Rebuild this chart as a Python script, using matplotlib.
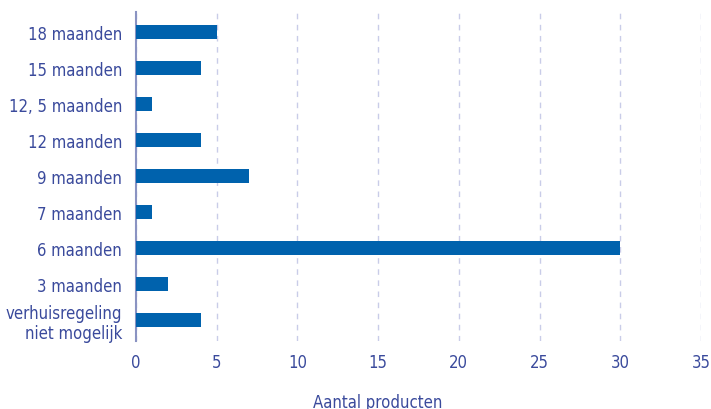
import matplotlib
matplotlib.use("Agg")
import matplotlib.pyplot as plt

categories = ["verhuisregeling\nniet mogelijk", "3 maanden", "6 maanden", "7 maanden",
              "9 maanden", "12 maanden", "12, 5 maanden", "15 maanden", "18 maanden"]
values = [4, 2, 30, 1, 7, 4, 1, 4, 5]
xticks = [0, 5, 10, 15, 20, 25, 30, 35]

plt.rcParams['font.family'] = ['DejaVu Sans']
plt.rcParams['font.stretch'] = 'condensed'

text_col = "#3A4A9C"
bar_col = "#0062AD"
fs = 12

W, H = 711, 410
fig = plt.figure(figsize=(W/100, H/100), dpi=100)
ax = fig.add_axes([136/W, 1-342/H, (701-136)/W, (342-13)/H])

ax.barh(range(len(categories)), values, height=0.4, color=bar_col, zorder=3)
ax.set_xlim(0, 35)
ax.set_ylim(-0.58, len(categories)-1+0.56)
ax.set_yticks(range(len(categories)))
ax.set_yticklabels(categories, fontsize=fs, color=text_col, linespacing=1.15, fontstretch='condensed')
ax.set_xticks(xticks)
ax.set_xticklabels([str(t) for t in xticks], fontsize=fs, color=text_col, fontstretch='condensed')
ax.tick_params(axis='both', length=0)
ax.tick_params(axis='y', pad=10)
ax.tick_params(axis='x', pad=9)
for s in ["top", "right", "bottom"]:
    ax.spines[s].set_visible(False)
ax.spines["left"].set_color("#8A93C2")
ax.spines["left"].set_linewidth(1.5)
ax.grid(axis='x', linestyle=(0, (4, 4)), color="#C9CCE8", linewidth=1, zorder=0)
ax.grid(axis='y', visible=False)
ax.set_axisbelow(True)

fig.text(378/W, 1-403/H, "Aantal producten", ha="center", va="center", fontsize=fs,
         color=text_col, fontstretch='condensed')

fig.savefig("out.png", dpi=100)
